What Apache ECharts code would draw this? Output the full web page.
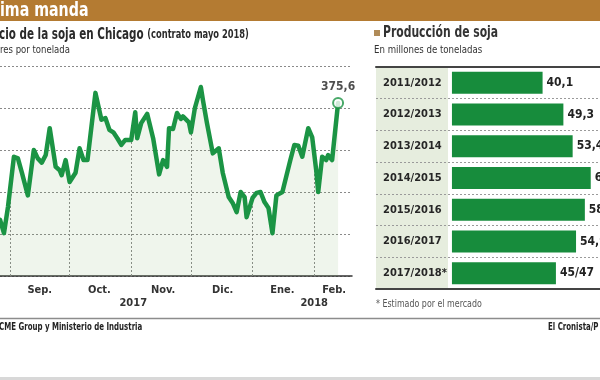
<!DOCTYPE html>
<html><head><meta charset="utf-8">
<script src="https://cdn.jsdelivr.net/npm/echarts@6/dist/echarts.min.js"></script>
<style>html,body{margin:0;padding:0;background:#fff}#c{width:600px;height:380px}</style>
</head><body><div id="c"></div>
<script>
// ---- Data: soybean price, Chicago (May 2018 contract), US$ per tonne ----
const priceDates = ['2017-08-27','2017-08-29','2017-08-31','2017-09-03','2017-09-05','2017-09-07','2017-09-10','2017-09-13','2017-09-15','2017-09-17','2017-09-19','2017-09-21','2017-09-24','2017-09-26','2017-09-27','2017-09-29','2017-10-01','2017-10-04','2017-10-06','2017-10-08','2017-10-10','2017-10-14','2017-10-17','2017-10-19','2017-10-21','2017-10-23','2017-10-25','2017-10-27','2017-10-29','2017-11-01','2017-11-03','2017-11-04','2017-11-06','2017-11-09','2017-11-12','2017-11-13','2017-11-15','2017-11-17','2017-11-19','2017-11-20','2017-11-22','2017-11-24','2017-11-26','2017-11-27','2017-11-30','2017-12-01','2017-12-03','2017-12-06','2017-12-07','2017-12-09','2017-12-12','2017-12-15','2017-12-17','2017-12-20','2017-12-22','2017-12-24','2017-12-26','2017-12-28','2017-12-29','2018-01-01','2018-01-03','2018-01-05','2018-01-07','2018-01-09','2018-01-11','2018-01-13','2018-01-16','2018-01-20','2018-01-22','2018-01-24','2018-01-26','2018-01-29','2018-01-31','2018-02-02','2018-02-03','2018-02-05','2018-02-07','2018-02-08','2018-02-10','2018-02-13'];
const priceValues = [361.7,360.1,363.2,369.2,369.0,367.3,364.6,370.0,369.0,368.5,369.4,372.6,368.0,367.6,367.0,368.8,366.2,367.3,370.2,368.8,368.8,376.8,373.6,373.8,372.4,372.1,371.4,370.6,371.2,371.2,374.5,371.4,373.2,374.3,371.4,371.2,367.1,368.8,368.0,372.6,372.5,374.4,373.7,374.0,373.3,372.1,375.0,377.5,376.0,373.3,369.6,370.2,367.3,364.4,363.7,362.6,365.0,364.4,362.0,364.3,364.9,365.0,363.8,363.1,360.1,364.6,365.0,368.8,370.6,370.5,369.2,372.6,371.5,367.6,365.0,369.2,368.8,369.4,368.8,375.6];
const monthStarts = ['2017-09-01','2017-10-01','2017-11-01','2017-12-01','2018-01-01','2018-02-01'];
const monthLabels = ['Sep.','Oct.','Nov.','Dic.','Ene.','Feb.'];
const monthLabelDates = ['2017-09-16','2017-10-16','2017-11-17','2017-12-17','2018-01-16','2018-02-11'];
const yearLabels = ['2017','2018'];
const yearLabelDates = ['2017-11-02','2018-02-01'];
const priceTicks = [355,360,365,370,375,380];

// ---- Data: soybean production (Argentina), million tonnes ----
const seasons = ['2011/2012','2012/2013','2013/2014','2014/2015','2015/2016','2016/2017','2017/2018*'];
const production = [40.1,49.3,53.4,61.4,58.8,54.9,46];
const productionLabels = ['40,1','49,3','53,4','61,4','58,8','54,9','45/47'];

const FONT = "'DejaVu Sans Condensed','Liberation Sans',sans-serif";
const GREEN = '#1b9444';
const BAR = '#178c3c';

function t(s){const p=s.split('-').map(Number);return Date.UTC(p[0],p[1]-1,p[2]);}
const priceTs = priceDates.map(t);
function valueAt(ts){
  for(let i=1;i<priceTs.length;i++){
    if(ts<=priceTs[i]){const a=priceTs[i-1],b=priceTs[i];const f=(ts-a)/(b-a);return priceValues[i-1]+f*(priceValues[i]-priceValues[i-1]);}
  }
  return priceValues[priceValues.length-1];
}
const monthMap = new Map(monthLabelDates.map((d,i)=>[t(d),monthLabels[i]]));
const yearMap = new Map(yearLabelDates.map((d,i)=>[t(d),yearLabels[i]]));
const last = priceValues.length-1;

const xMin = t('2017-08-27'), xMax = t('2018-02-20');

function txt(x,y,text,size,weight,color,sx,rich){
  return {type:'text', x:x, y:y, scaleX:sx, originX:0, originY:0, silent:true, z:10,
    style:{text:text, fontSize:size, fontWeight:weight, fontFamily:FONT, fill:color, verticalAlign:'middle', align:'left', rich:rich}};
}

const chart = echarts.init(document.getElementById('c'), null, {renderer:'canvas'});
chart.setOption({
  animation:false,
  backgroundColor:'#fff',
  textStyle:{fontFamily:FONT},
  graphic:[
    {type:'rect', shape:{x:0,y:0,width:600,height:21}, style:{fill:'#b47b32'}, z:-10, silent:true},
    {type:'rect', shape:{x:376,y:67,width:72,height:222}, style:{fill:'#e6edde'}, z:-10, silent:true},
    {type:'line', shape:{x1:0,y1:318.5,x2:600,y2:318.5}, style:{stroke:'#8c8c8c',lineWidth:1.5}, silent:true},
    {type:'rect', shape:{x:0,y:377,width:600,height:3}, style:{fill:'#d8d8d8'}, silent:true},
    {type:'rect', shape:{x:374,y:30,width:6,height:6}, style:{fill:'#b08b58'}, silent:true},
    txt(0,11,'ima manda',20,'bold','#fff',0.79),
    txt(-1,35,'{a|cio de la soja en Chicago} {b|(contrato mayo 2018)}',15,'bold','#2a2a2a',0.77,
      {a:{fontSize:15,fontWeight:'bold',fill:'#2a2a2a',fontFamily:FONT},b:{fontSize:12,fontWeight:'bold',fill:'#2a2a2a',fontFamily:FONT}}),
    txt(0,50,'res por tonelada',11,'normal','#333',0.86),
    txt(383,33,'Producción de soja',16,'bold','#333',0.75),
    txt(374,50,'En millones de toneladas',11,'normal','#333',0.87),
    txt(376,304,'* Estimado por el mercado',11,'normal','#555',0.8),
    txt(-1,327,'CME Group y Ministerio de Industria',11,'bold','#222',0.71),
    txt(548,327,'El Cronista/P',11,'bold','#222',0.71)
  ],
  grid:[
    {left:0, right:248, top:66, bottom:104},
    {left:376, right:0, top:67, bottom:91}
  ],
  xAxis:[
    {type:'value', gridIndex:0, min:xMin, max:xMax, scale:true,
      axisLine:{show:true, onZero:false, lineStyle:{color:'#333', width:1.5}},
      axisTick:{show:false}, splitLine:{show:false},
      axisLabel:{customValues:monthLabelDates.map(t), formatter:v=>monthMap.get(v)||'', fontSize:11, fontWeight:'bold', color:'#333', margin:9, fontFamily:FONT, hideOverlap:false}},
    {type:'value', gridIndex:0, min:xMin, max:xMax, scale:true, position:'bottom',
      axisLine:{show:false}, axisTick:{show:false}, splitLine:{show:false},
      axisLabel:{customValues:yearLabelDates.map(t), formatter:v=>yearMap.get(v)||'', fontSize:11, fontWeight:'bold', color:'#333', margin:22, fontFamily:FONT, hideOverlap:false}},
    {type:'value', gridIndex:1, min:-33.6, max:65.5, position:'bottom',
      axisLine:{show:true, onZero:false, lineStyle:{color:'#444', width:2}}, axisTick:{show:false}, axisLabel:{show:false}, splitLine:{show:false}},
    {type:'value', gridIndex:1, min:-33.6, max:65.5, position:'top',
      axisLine:{show:true, onZero:false, lineStyle:{color:'#444', width:2}}, axisTick:{show:false}, axisLabel:{show:false}, splitLine:{show:false}}
  ],
  yAxis:[
    {type:'value', gridIndex:0, min:priceTicks[0], max:priceTicks[priceTicks.length-1], interval:5,
      axisLine:{show:false}, axisTick:{show:false}, axisLabel:{show:false},
      splitLine:{show:true, lineStyle:{color:'#8a8a8a', type:[2,2], width:1}}},
    {type:'category', gridIndex:1, data:seasons, inverse:true,
      axisLine:{show:false}, axisTick:{show:false},
      axisLabel:{inside:true, margin:7, fontSize:11, fontWeight:'bold', color:'#262626', fontFamily:FONT},
      splitLine:{show:true, lineStyle:{color:'#9a9a9a', type:[2,2], width:1}}}
  ],
  series:[
    {type:'line', xAxisIndex:0, yAxisIndex:0, z:3,
      data:priceTs.map((ts,i)=>[ts,priceValues[i]]),
      showSymbol:false, symbol:'none',
      lineStyle:{color:GREEN, width:4.5, join:'round', cap:'round'},
      areaStyle:{color:'rgba(120,170,90,0.17)', origin:'start'},
      markLine:{silent:true, symbol:'none', z:1, animation:false, label:{show:false},
        lineStyle:{color:'#8a8a8a', type:[2,2], width:1},
        emphasis:{disabled:true},
        data:monthStarts.map(s=>[{coord:[t(s),priceTicks[0]]},{coord:[t(s),valueAt(t(s))]}])}
    },
    {type:'scatter', xAxisIndex:0, yAxisIndex:0, z:5,
      data:[[priceTs[last], priceValues[last]]],
      symbol:'circle', symbolSize:10,
      itemStyle:{color:'#fff', borderColor:GREEN, borderWidth:2},
      label:{show:true, position:'top', distance:4, formatter:p=>p.value[1].toFixed(1).replace('.',','), fontSize:12, fontWeight:'bold', color:'#222', fontFamily:FONT}
    },
    {type:'bar', xAxisIndex:2, yAxisIndex:1, data:production, barWidth:22,
      itemStyle:{color:BAR},
      label:{show:true, position:'right', distance:4, formatter:p=>productionLabels[p.dataIndex], fontSize:12, fontWeight:'bold', color:'#222', fontFamily:FONT}
    }
  ]
});
</script></body></html>
